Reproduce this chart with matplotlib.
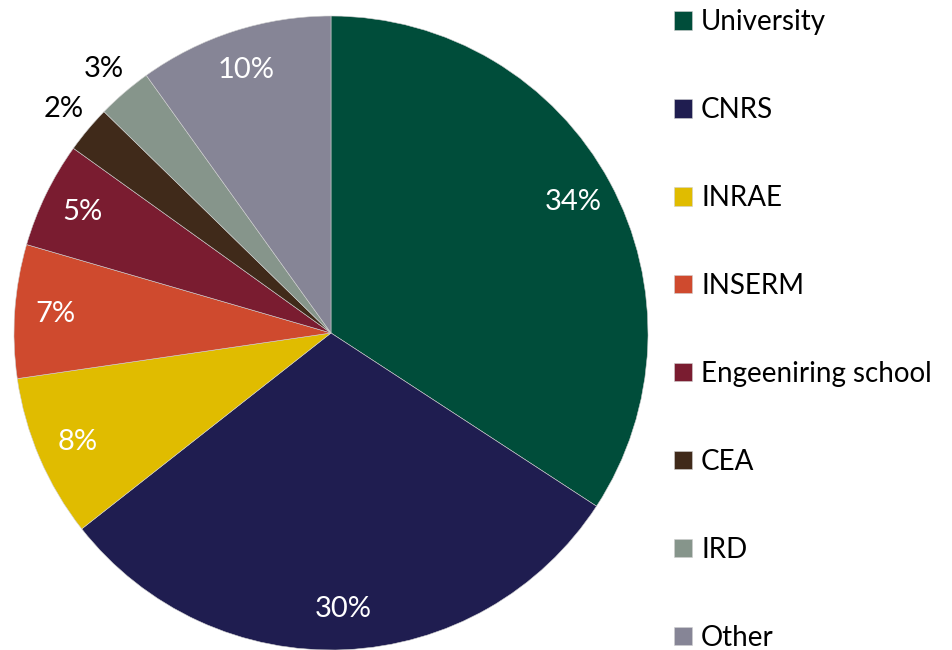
import numpy as np
import matplotlib
matplotlib.use("Agg")
import matplotlib.pyplot as plt

plt.rcParams["font.family"] = ["Lato", "DejaVu Sans"]

LABELS = ["University", "CNRS", "INRAE", "INSERM", "Engeeniring school",
          "CEA", "IRD", "Other"]
SHARES = [34.2, 30.2, 8.3, 6.8, 5.4, 2.4, 2.8, 9.9]   # percent
COLORS = ["#004d3a", "#1f1d50", "#e0bc00", "#cf4a2e", "#7a1c30",
          "#402a1a", "#86958b", "#868596"]
OUTSIDE = ["CEA", "IRD"]   # labels drawn outside the pie

W, H = 953, 650
fig = plt.figure(figsize=(W / 100, H / 100), dpi=100)

# pie centre ~ (331, 333) px, radius ~ 317 px
cx, cy, r = 331, 333, 317
ax = fig.add_axes([(cx - r) / W, (H - cy - r) / H, 2 * r / W, 2 * r / H])

wedges, _ = ax.pie(
    SHARES,
    colors=COLORS,
    startangle=90,
    counterclock=False,
    radius=1,
    wedgeprops=dict(linewidth=0.4, edgecolor="#d0d0d0"),
)
ax.set_xlim(-1, 1)
ax.set_ylim(-1, 1)
ax.set_aspect("equal")
ax.axis("off")

for w, lab, val in zip(wedges, LABELS, SHARES):
    ang = np.deg2rad((w.theta1 + w.theta2) / 2)
    if lab in OUTSIDE:
        rr, col = 1.1, "black"
    else:
        rr, col = 0.87, "white"
    ax.text(rr * np.cos(ang), rr * np.sin(ang), f"{val:.0f}%",
            ha="center", va="center", color=col, fontsize=21)

fig.legend(
    wedges, LABELS,
    loc="upper left",
    bbox_to_anchor=(663 / W, 1 + 2 / H),
    frameon=False,
    fontsize=20,
    handlelength=0.65,
    handleheight=0.65,
    handletextpad=0.32,
    labelspacing=2.23,
    borderaxespad=0,
)

fig.savefig("out.png", dpi=100)
